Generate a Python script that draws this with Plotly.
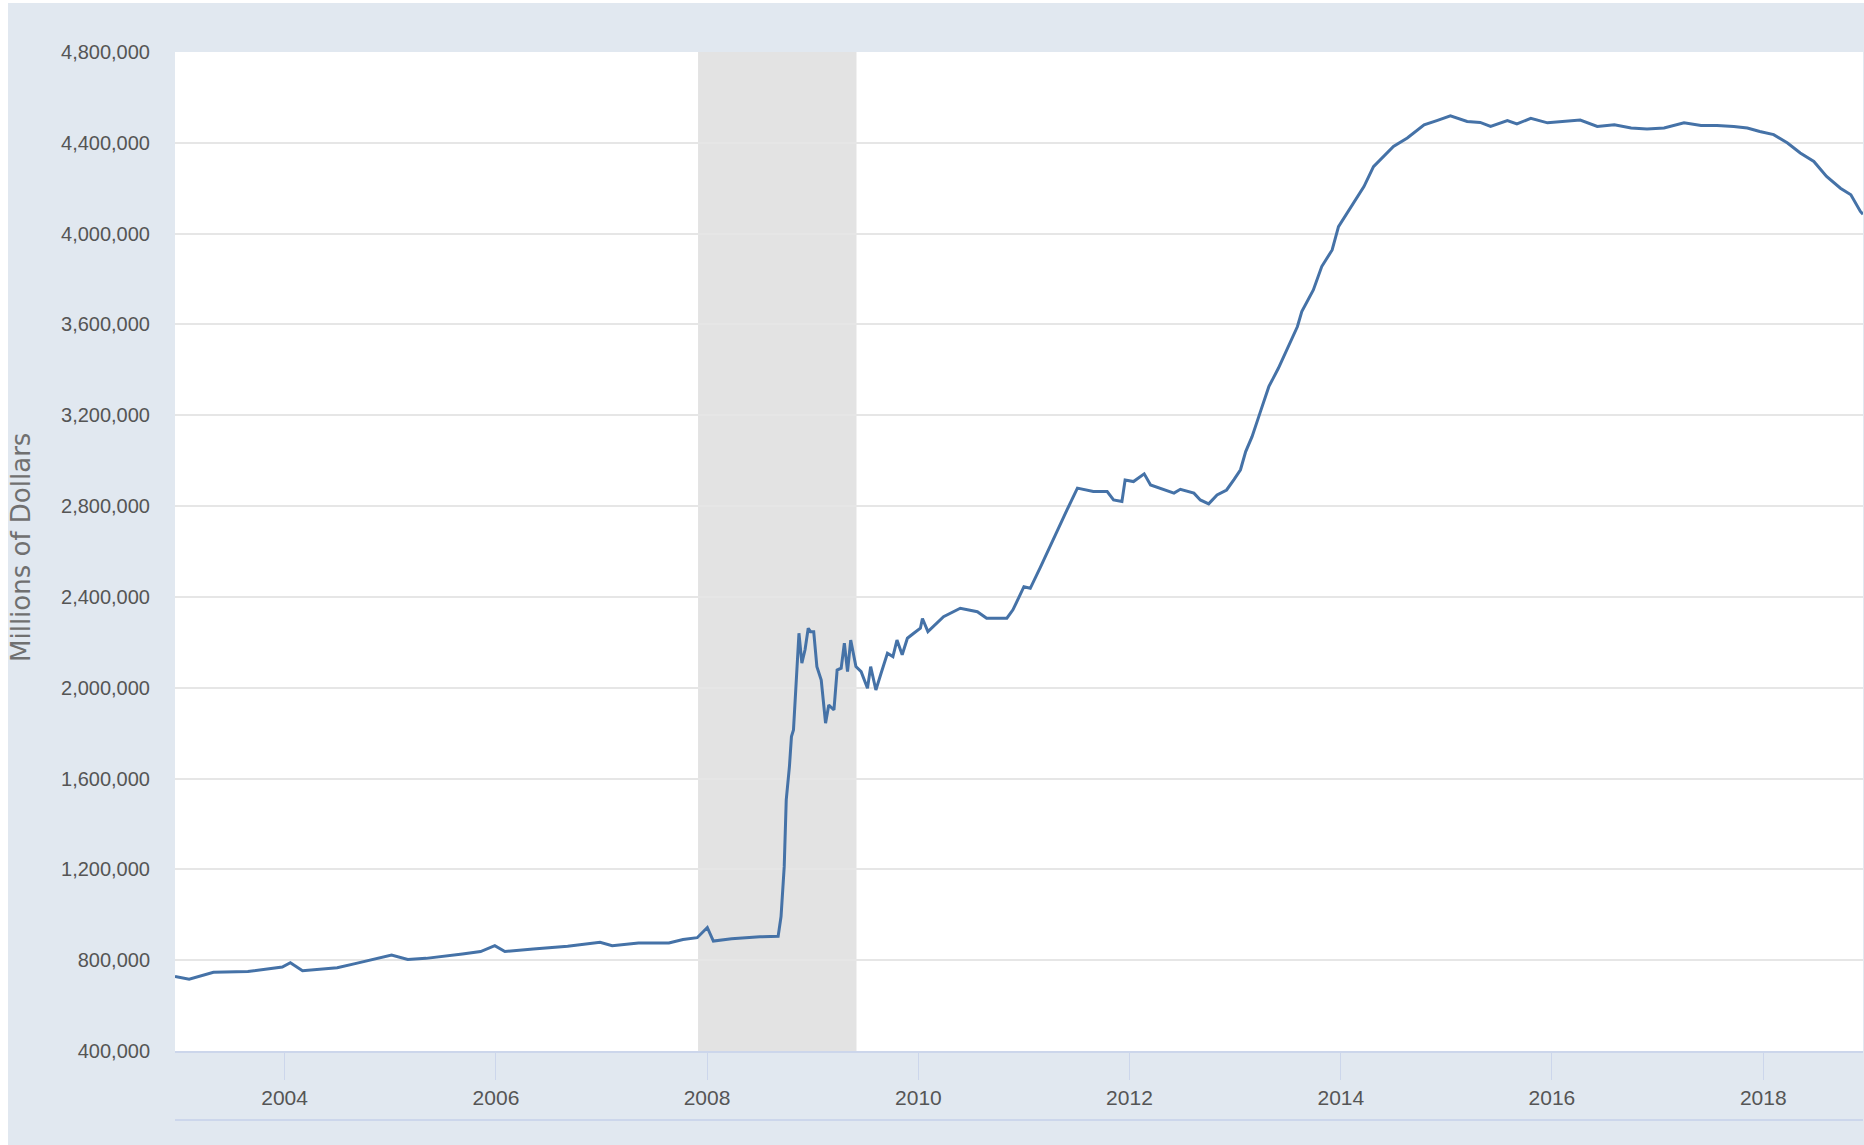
import plotly.graph_objects as go

# Weekly-ish readings of total assets (Millions of Dollars)
dates = [
    "2002-12-18", "2003-02-05", "2003-04-30", "2003-08-27", "2003-12-24",
    "2004-01-21", "2004-03-03", "2004-07-01", "2004-09-01", "2004-11-17",
    "2005-01-05", "2005-03-02", "2005-05-04", "2005-09-07", "2005-11-09",
    "2005-12-28", "2006-02-01", "2006-05-10", "2006-09-06", "2006-12-27",
    "2007-02-07", "2007-05-09", "2007-08-22", "2007-10-10", "2007-11-28",
    "2008-01-02", "2008-01-23", "2008-03-26", "2008-07-02", "2008-09-03",
    "2008-09-13", "2008-09-24", "2008-10-01", "2008-10-12", "2008-10-19",
    "2008-10-26", "2008-11-02", "2008-11-14", "2008-11-24", "2008-12-05",
    "2008-12-16", "2008-12-24", "2009-01-04", "2009-01-15", "2009-01-30",
    "2009-02-10", "2009-02-14", "2009-02-25", "2009-03-15", "2009-03-26",
    "2009-04-09", "2009-04-20", "2009-05-01", "2009-05-12", "2009-05-30",
    "2009-06-17", "2009-07-09", "2009-07-20", "2009-08-07", "2009-08-25",
    "2009-09-16", "2009-10-05", "2009-10-19", "2009-11-06", "2009-11-24",
    "2009-12-16", "2010-01-08", "2010-01-15", "2010-02-03", "2010-03-29",
    "2010-05-26", "2010-07-24", "2010-08-25", "2010-11-03", "2010-11-24",
    "2011-01-01", "2011-01-23", "2011-02-28", "2011-04-27", "2011-05-30",
    "2011-07-05", "2011-08-29", "2011-10-16", "2011-11-07", "2011-12-06",
    "2011-12-17", "2012-01-15", "2012-02-21", "2012-03-14", "2012-04-16",
    "2012-06-03", "2012-06-25", "2012-08-11", "2012-09-02", "2012-10-01",
    "2012-10-30", "2012-12-02", "2012-12-28", "2013-01-19", "2013-02-06",
    "2013-02-28", "2013-03-29", "2013-04-27", "2013-05-30", "2013-06-28",
    "2013-08-04", "2013-08-19", "2013-09-28", "2013-10-27", "2013-12-02",
    "2013-12-24", "2014-02-03", "2014-03-22", "2014-04-24", "2014-05-21",
    "2014-07-02", "2014-08-19", "2014-10-16", "2014-11-29", "2015-01-15",
    "2015-03-14", "2015-04-28", "2015-06-03", "2015-07-31", "2015-09-02",
    "2015-10-20", "2015-12-17", "2016-02-24", "2016-04-08", "2016-06-06",
    "2016-08-04", "2016-10-01", "2016-11-25", "2017-01-23", "2017-04-02",
    "2017-05-31", "2017-07-25", "2017-09-21", "2017-11-07", "2017-12-20",
    "2018-02-06", "2018-03-26", "2018-05-09", "2018-06-25", "2018-08-08",
    "2018-09-25", "2018-10-31", "2018-12-03", "2018-12-12",
]
values = [
    728000, 716000, 747000, 750000, 770000,
    789000, 754000, 767000, 785000, 808000,
    823000, 803000, 808000, 827000, 838000,
    864000, 838000, 849000, 861000, 879000,
    864000, 876000, 876000, 891000, 899000,
    944000, 884000, 894000, 903000, 905000,
    992000, 1212000, 1506000, 1652000, 1785000,
    1814000, 1990000, 2240000, 2108000, 2167000,
    2262000, 2247000, 2247000, 2093000, 2034000,
    1888000, 1844000, 1924000, 1902000, 2078000,
    2086000, 2196000, 2071000, 2210000, 2093000,
    2071000, 1998000, 2093000, 1990000, 2064000,
    2152000, 2137000, 2210000, 2145000, 2218000,
    2240000, 2262000, 2305000, 2247000, 2313000,
    2350000, 2335000, 2306000, 2306000, 2343000,
    2445000, 2438000, 2533000, 2695000, 2783000,
    2879000, 2864000, 2864000, 2827000, 2820000,
    2915000, 2908000, 2942000, 2893000, 2879000,
    2857000, 2874000, 2857000, 2827000, 2810000,
    2849000, 2871000, 2918000, 2960000, 3040000,
    3106000, 3216000, 3326000, 3407000, 3488000,
    3591000, 3657000, 3752000, 3855000, 3928000,
    4031000, 4112000, 4207000, 4295000, 4330000,
    4384000, 4421000, 4479000, 4498000, 4519000,
    4494000, 4490000, 4472000, 4498000, 4483000,
    4508000, 4488000, 4494000, 4500000, 4472000,
    4479000, 4465000, 4461000, 4465000, 4488000,
    4476000, 4476000, 4472000, 4465000, 4450000,
    4436000, 4399000, 4355000, 4318000, 4252000,
    4200000, 4171000, 4098000, 4085000,
]

recession = ["2007-12-01", "2009-06-01"]
x_range = ["2002-12-18", "2018-12-12"]
y_ticks = [400000, 800000, 1200000, 1600000, 2000000, 2400000,
           2800000, 3200000, 3600000, 4000000, 4400000, 4800000]
x_ticks = ["2004-01-01", "2006-01-01", "2008-01-01", "2010-01-01",
           "2012-01-01", "2014-01-01", "2016-01-01", "2018-01-01"]
x_labels = ["2004", "2006", "2008", "2010", "2012", "2014", "2016", "2018"]

W, H = 1864, 1145
L, R, T, B = 175, 1, 52, 94
PW, PH = W - L - R, H - T - B

def px(xp):
    return (xp - L) / PW

def py(yp):
    return (H - B - yp) / PH

PANEL = "#e1e8f0"
AXIS = "#ccd6eb"
FONT = "Liberation Sans, Arial, sans-serif"

fig = go.Figure()
fig.add_trace(go.Scatter(
    x=dates, y=values, mode="lines",
    line=dict(color="#4572a7", width=3),
    hoverinfo="x+y", showlegend=False,
))

shapes = [
    dict(type="rect", xref="x", yref="paper", x0=recession[0], x1=recession[1],
         y0=0, y1=1, fillcolor="#e3e3e3", line=dict(width=0), layer="between"),
    dict(type="line", xref="paper", yref="paper", x0=0, x1=1,
         y0=py(1120), y1=py(1120), line=dict(color=AXIS, width=2)),
    # white page border around the panel
    dict(type="rect", xref="paper", yref="paper", x0=px(0), x1=px(8),
         y0=py(H), y1=py(0), fillcolor="white", line=dict(width=0)),
    dict(type="rect", xref="paper", yref="paper", x0=px(0), x1=px(W),
         y0=py(3), y1=py(0), fillcolor="white", line=dict(width=0)),
]

fig.update_layout(
    width=W, height=H,
    margin=dict(l=L, r=R, t=T, b=B, pad=0),
    paper_bgcolor=PANEL, plot_bgcolor="white",
    font=dict(family=FONT, color="#555555", size=20),
    shapes=shapes,
    annotations=[dict(
        text="Millions of Dollars", textangle=-90, showarrow=False,
        xref="paper", yref="paper", x=px(21), y=py(548),
        xanchor="center", yanchor="middle",
        font=dict(family="DejaVu Sans, Arial, sans-serif", size=26, color="#707070"),
    )],
)
fig.update_xaxes(
    type="date", range=x_range, tickvals=x_ticks, ticktext=x_labels,
    showgrid=False, zeroline=False,
    showline=True, linecolor=AXIS, linewidth=2,
    ticks="outside", ticklen=27, tickcolor=AXIS, tickwidth=1,
    tickfont=dict(family=FONT, size=21, color="#555555"),
)
fig.update_yaxes(
    range=[400000, 4800000], tickvals=y_ticks, tickformat=",",
    showgrid=True, gridcolor="#e6e6e6", gridwidth=2, zeroline=False,
    showline=False, ticks="", ticklabelstandoff=24,
    tickfont=dict(family=FONT, size=20, color="#555555"),
)

fig.write_html(
    "out.html",
    config={"displayModeBar": False},
    post_script="document.body.style.margin='0';document.body.style.overflow='hidden';",
)
